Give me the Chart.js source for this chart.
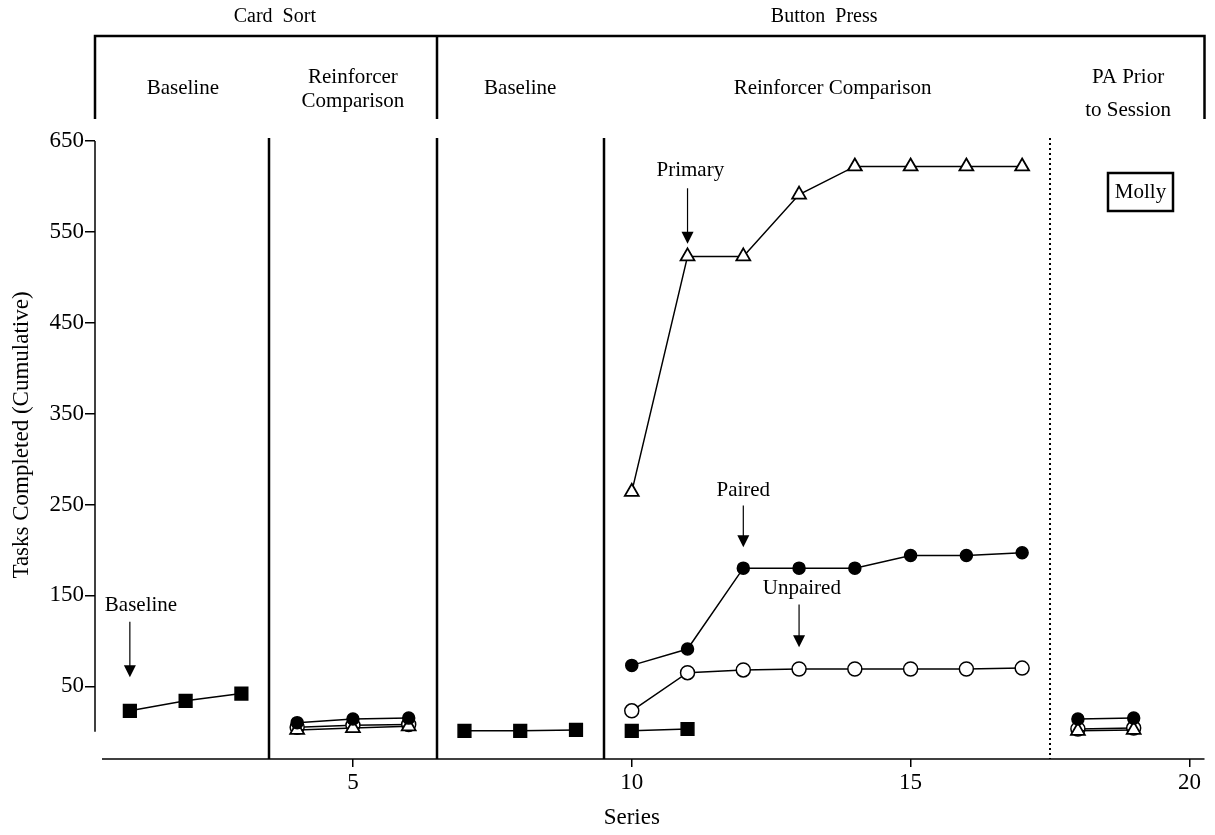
<!DOCTYPE html>
<html>
<head>
<meta charset="utf-8">
<script src="https://cdn.jsdelivr.net/npm/chart.js@4.4.0/dist/chart.umd.min.js"></script>
<style>
  html, body { margin: 0; padding: 0; background: #fff; }
  #wrap { width: 1215px; height: 835px; }
</style>
</head>
<body>
<div id="wrap"><canvas id="myChart" width="1215" height="835"></canvas></div>
<script>
// session numbers on the x axis
const series = [1, 2, 3, 4, 5, 6, 7, 8, 9, 10, 11, 12, 13, 14, 15, 16, 17, 18, 19];

// cumulative tasks completed, one entry per session (null = no point)
const baseline = [23, 34, 42, null, null, null, 1, 1, 2, 1, 3, null, null, null, null, null, null, null, null];
const paired   = [null, null, null, 10, 14, 15, null, null, null, 73, 91, 180, 180, 180, 194, 194, 197, 14, 15];
const unpaired = [null, null, null, 5, 7, 8, null, null, null, 23, 65, 68, 69, 69, 69, 69, 70, 3, 4];
const primary  = [null, null, null, 2, 4, 6, null, null, null, 264, 523, 523, 591, 622, 622, 622, 622, 1, 2];

const xTicks = [5, 10, 15, 20];
const yTicks = [50, 150, 250, 350, 450, 550, 650];

// phase change lines (solid) and the dotted one
const phaseLines = [3.5, 6.5, 9.5];
const dottedLine = 17.5;

const serif = "'Liberation Serif', 'Times New Roman', serif";

function toPoints(values) {
    return series.map((x, i) => ({ x: x, y: values[i] }));
}

// don't connect points across a phase line
function segColor(ctx) {
    const a = ctx.p0.parsed.x, b = ctx.p1.parsed.x;
    const all = phaseLines.concat([dottedLine]);
    for (const p of all) {
        if (p > a && p < b) return 'rgba(0,0,0,0)';
    }
    return '#000';
}

const decorPlugin = {
    id: 'decor',
    beforeDatasetsDraw(chart) {
        const ctx = chart.ctx;
        const xs = chart.scales.x, ys = chart.scales.y;
        const area = chart.chartArea;
        ctx.save();
        ctx.strokeStyle = '#000';
        // y axis only from 0 up to 650
        ctx.lineWidth = 1.5;
        ctx.beginPath();
        ctx.moveTo(area.left, ys.getPixelForValue(0));
        ctx.lineTo(area.left, ys.getPixelForValue(650));
        ctx.stroke();
        // x axis
        ctx.beginPath();
        ctx.moveTo(xs.getPixelForValue(0.5), area.bottom);
        ctx.lineTo(area.right, area.bottom);
        ctx.stroke();
        // phase lines
        ctx.lineWidth = 2.5;
        phaseLines.forEach(p => {
            const px = Math.round(xs.getPixelForValue(p));
            ctx.beginPath();
            ctx.moveTo(px, area.top - 3);
            ctx.lineTo(px, area.bottom);
            ctx.stroke();
        });
        ctx.lineWidth = 2;
        ctx.setLineDash([2, 3]);
        const dx = Math.round(xs.getPixelForValue(dottedLine));
        ctx.beginPath();
        ctx.moveTo(dx, area.top - 3);
        ctx.lineTo(dx, area.bottom);
        ctx.stroke();
        ctx.setLineDash([]);

        // header brackets
        const hTop = 36, hBot = 119;
        const midX = Math.round(xs.getPixelForValue(6.5));
        ctx.lineWidth = 2.5;
        ctx.beginPath();
        ctx.moveTo(area.left, hBot);
        ctx.lineTo(area.left, hTop);
        ctx.lineTo(area.right, hTop);
        ctx.lineTo(area.right, hBot);
        ctx.moveTo(midX, hTop);
        ctx.lineTo(midX, hBot);
        ctx.stroke();

        ctx.fillStyle = '#000';
        ctx.textAlign = 'center';
        ctx.textBaseline = 'middle';
        ctx.font = '20px ' + serif;
        ctx.fillText('Card  Sort', xs.getPixelForValue(3.6), 17);
        ctx.fillText('Button  Press', xs.getPixelForValue(13.45), 17);
        ctx.font = '21px ' + serif;
        ctx.fillText('Baseline', xs.getPixelForValue(1.95), 88);
        ctx.fillText('Reinforcer', xs.getPixelForValue(5), 77);
        ctx.fillText('Comparison', xs.getPixelForValue(5), 101);
        ctx.fillText('Baseline', xs.getPixelForValue(8), 88);
        ctx.fillText('Reinforcer Comparison', xs.getPixelForValue(13.6), 88);
        ctx.fillText('PA Prior', xs.getPixelForValue(18.9), 77);
        ctx.fillText('to Session', xs.getPixelForValue(18.9), 110);

        // axis titles
        ctx.font = '23px ' + serif;
        ctx.fillText('Series', xs.getPixelForValue(10), 818);
        ctx.save();
        ctx.translate(22, 435);
        ctx.rotate(-Math.PI / 2);
        ctx.fillText('Tasks Completed (Cumulative)', 0, 0);
        ctx.restore();

        // labelled arrows
        const arrows = [
            { text: 'Baseline', tx: 1.2, ty: 139, x: 1, from: 121, to: 60 },
            { text: 'Primary', tx: 11.05, ty: 618, x: 11, from: 598, to: 537 },
            { text: 'Paired', tx: 12, ty: 265, x: 12, from: 249, to: 203 },
            { text: 'Unpaired', tx: 13.05, ty: 158, x: 13, from: 140, to: 93 }
        ];
        ctx.font = '21px ' + serif;
        arrows.forEach(a => {
            const ax = xs.getPixelForValue(a.x);
            ctx.fillText(a.text, xs.getPixelForValue(a.tx), ys.getPixelForValue(a.ty));
            const y1 = ys.getPixelForValue(a.from), y2 = ys.getPixelForValue(a.to);
            ctx.lineWidth = 1.2;
            ctx.beginPath();
            ctx.moveTo(ax, y1);
            ctx.lineTo(ax, y2 - 10);
            ctx.stroke();
            ctx.beginPath();
            ctx.moveTo(ax - 6, y2 - 12);
            ctx.lineTo(ax + 6, y2 - 12);
            ctx.lineTo(ax, y2);
            ctx.closePath();
            ctx.fill();
        });

        // participant label
        ctx.lineWidth = 2.5;
        ctx.strokeRect(1108, 173, 65, 38);
        ctx.font = '21px ' + serif;
        ctx.fillText('Molly', 1140.5, 192);
        ctx.restore();
    }
};

const baseDs = {
    borderColor: '#000',
    borderWidth: 1.5,
    pointBorderColor: '#000',
    pointBorderWidth: 1.5,
    spanGaps: false,
    tension: 0,
    segment: { borderColor: segColor }
};

const chartData = {
    datasets: [
        Object.assign({}, baseDs, {
            label: 'Baseline', data: toPoints(baseline),
            pointStyle: 'rect', pointRadius: 9, pointBackgroundColor: '#000', order: 1
        }),
        Object.assign({}, baseDs, {
            label: 'Paired', data: toPoints(paired),
            pointStyle: 'circle', pointRadius: 6, pointBackgroundColor: '#000', order: 2
        }),
        Object.assign({}, baseDs, {
            label: 'Primary', data: toPoints(primary),
            pointStyle: 'triangle', pointRadius: 8, pointBorderWidth: 1.8, pointBackgroundColor: '#fff', order: 3
        }),
        Object.assign({}, baseDs, {
            label: 'Unpaired', data: toPoints(unpaired),
            pointStyle: 'circle', pointRadius: 7, pointBackgroundColor: '#fff', order: 4
        })
    ]
};

const options = {
    responsive: false,
    animation: false,
    layout: { padding: { left: 0, right: 8, top: 141, bottom: 0 } },
    plugins: {
        legend: { display: false },
        tooltip: { enabled: false }
    },
    scales: {
        x: {
            type: 'linear',
            min: 0.375,
            max: 20.27,
            afterBuildTicks: s => { s.ticks = xTicks.map(v => ({ value: v })); },
            afterFit: s => { s.height = 76; },
            border: { display: false },
            grid: { drawOnChartArea: false, drawTicks: true, tickLength: 8, color: '#000', lineWidth: 1.5 },
            ticks: { color: '#000', font: { family: serif, size: 23 }, padding: 2, maxRotation: 0 }
        },
        y: {
            type: 'linear',
            min: -30,
            max: 650,
            afterBuildTicks: s => { s.ticks = yTicks.map(v => ({ value: v })); },
            afterFit: s => { s.width = 95; },
            border: { display: false },
            grid: { drawOnChartArea: false, drawTicks: true, tickLength: 10, color: '#000', lineWidth: 1.5 },
            ticks: { color: '#000', font: { family: serif, size: 23 }, padding: 1 }
        }
    }
};

const ctx = document.getElementById('myChart').getContext('2d');
const myChart = new Chart(ctx, {
    type: 'line',
    data: chartData,
    options: options,
    plugins: [decorPlugin]
});
</script>
</body>
</html>
